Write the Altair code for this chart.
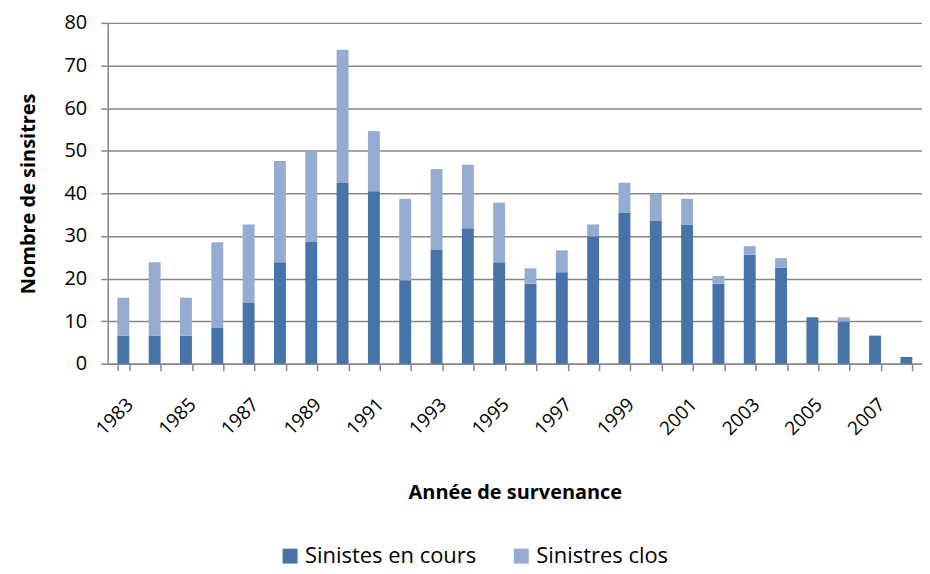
import altair as alt
import pandas as pd

years = [str(y) for y in range(1983, 2009)]
en_cours = [6.6, 6.6, 6.6, 8.4, 14.4, 23.8, 28.6, 42.4, 40.5, 19.6, 26.7, 31.8, 23.8,
            18.8, 21.5, 29.9, 35.5, 33.6, 32.6, 18.8, 25.6, 22.5, 10.9, 9.9, 6.6, 1.6]
clos = [8.9, 17.2, 8.9, 20.1, 18.3, 23.8, 21.3, 31.3, 14.1, 19.1, 19.0, 14.9, 14.0,
        3.6, 5.1, 2.8, 7.0, 6.2, 6.1, 1.8, 2.0, 2.3, 0.0, 1.0, 0.0, 0.0]
series = ["Sinistes en cours", "Sinistres clos"]
colors = ["#4673A8", "#96ABD2"]

rows = []
for i, y in enumerate(years):
    rows.append({"annee": y, "serie": series[0], "val": en_cours[i], "ord": 0})
    rows.append({"annee": y, "serie": series[1], "val": clos[i], "ord": 1})
df = pd.DataFrame(rows)

FONT = "Open Sans"
GRID = "#878787"

chart = alt.Chart(df).mark_bar().encode(
    x=alt.X("annee:N", sort=years,
            scale=alt.Scale(paddingInner=0.62, paddingOuter=0.31),
            axis=alt.Axis(title="Année de survenance", labelAngle=-45,
                          labelExpr="parseInt(datum.value) % 2 == 1 ? datum.label : ''",
                          labelFontSize=19, labelColor="#000", labelFont=FONT,
                          labelPadding=24, labelAlign="right", labelBaseline="top",
                          titleFontSize=20, titleFont=FONT, titleFontWeight="bold",
                          titleColor="#000", titlePadding=44,
                          tickBand="extent", tickSize=7, tickColor=GRID, tickWidth=1.5,
                          domainColor=GRID, domainWidth=1.5, grid=False)),
    y=alt.Y("val:Q", stack="zero",
            scale=alt.Scale(domain=[0, 80], nice=False),
            axis=alt.Axis(title="Nombre de sinsitres", values=list(range(0, 81, 10)),
                          labelFontSize=20, labelColor="#000", labelFont=FONT,
                          labelPadding=14,
                          titleFontSize=20, titleFont=FONT, titleFontWeight="bold",
                          titleColor="#000", titlePadding=26,
                          tickSize=7, tickColor=GRID, tickWidth=1.5,
                          domainColor=GRID, domainWidth=1.5,
                          grid=True, gridColor=GRID, gridWidth=1.5)),
    color=alt.Color("serie:N", sort=series,
                    scale=alt.Scale(domain=series, range=colors),
                    legend=alt.Legend(title=None, orient="none", direction="horizontal",
                                      legendX=172, legendY=524,
                                      symbolType="square", symbolSize=225,
                                      symbolStrokeWidth=0, labelLimit=400,
                                      labelFontSize=22, labelFont=FONT, labelColor="#000",
                                      columnPadding=34)),
    order=alt.Order("ord:Q", sort="ascending"),
).properties(
    width=817, height=342,
    autosize=alt.AutoSizeParams(type="none"),
    padding={"left": 100, "top": 14, "right": 0, "bottom": 208},
).configure_view(stroke=None)

chart.save("out.html", embed_options={"renderer": "svg", "actions": False})
